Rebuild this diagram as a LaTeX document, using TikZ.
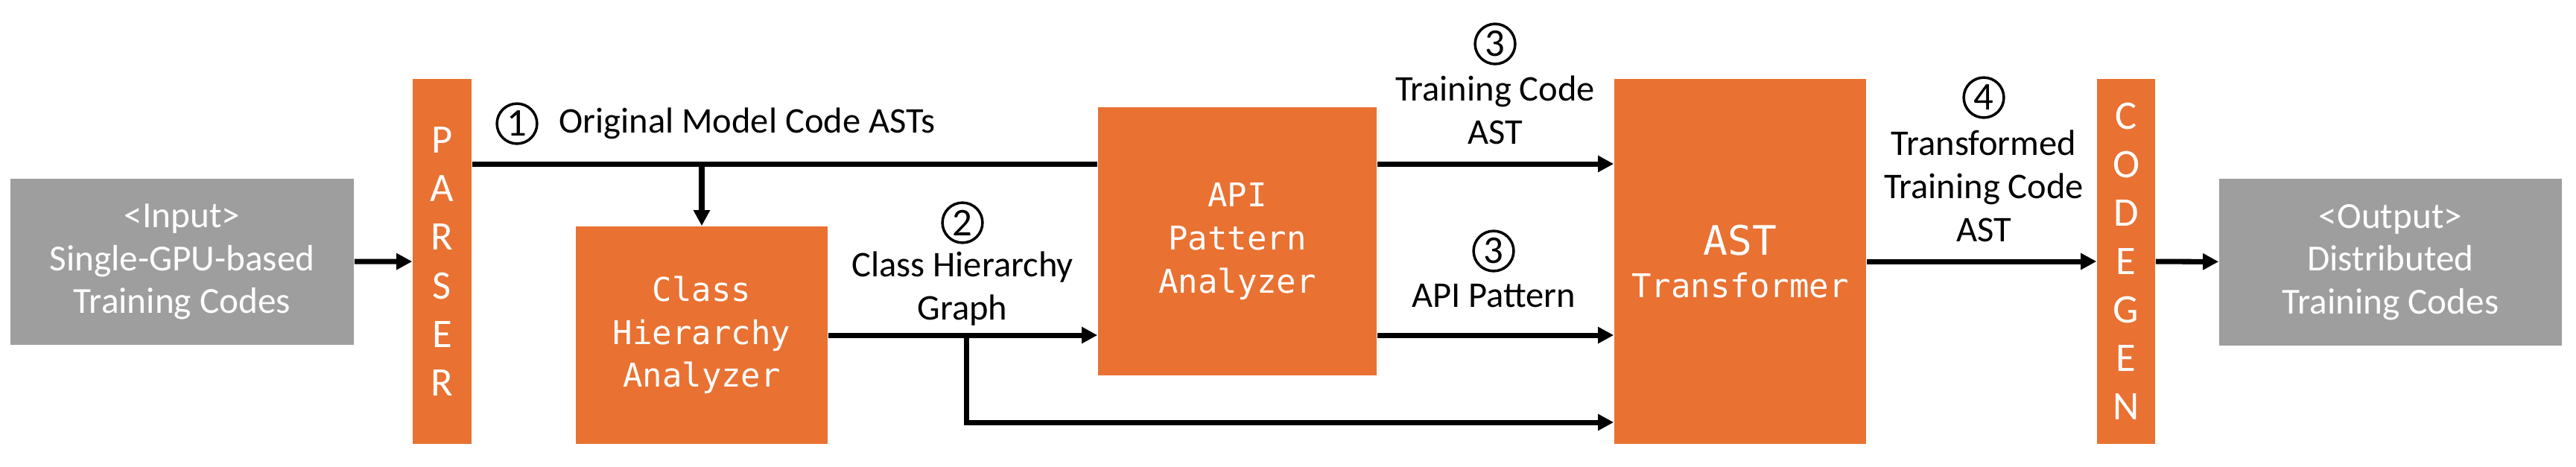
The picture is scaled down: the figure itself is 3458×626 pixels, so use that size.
\documentclass[tikz,border=0pt]{standalone}
\usepackage{fontspec}
\setmainfont{Carlito}
\newfontfamily\monof{DejaVu Sans Mono}
\usetikzlibrary{arrows.meta}
\definecolor{org}{HTML}{E97132}
\definecolor{gry}{HTML}{9E9E9E}
\begin{document}
\begin{tikzpicture}[x=0.01cm,y=-0.01cm,
 conn/.style={line width=2pt, -{Triangle[length=6pt,width=6pt]}},
 plain/.style={line width=2pt},
 obox/.style={fill=org, text=white, inner sep=0pt, align=center},
 gbox/.style={fill=gry, text=white, inner sep=0pt, align=center, font=\fontsize{14}{16.3}\selectfont},
 mono/.style={font=\monof\fontsize{12.5}{16.4}\selectfont},
 vlet/.style={font=\fontsize{15.5}{18.5}\selectfont},
 lbl/.style={align=center, font=\fontsize{13.8}{16.5}\selectfont},
 num/.style={circle, draw, line width=1pt, minimum size=15.3pt, inner sep=0pt, font=\fontsize{15}{16}\selectfont}
]
\useasboundingbox (0,0) rectangle (3458,626);

% boxes
\node[gbox, minimum width=4.61cm, minimum height=2.23cm] (input) at (244.5,351.5) {<Input>\\Single-GPU-based\\Training Codes};
\node[obox, vlet, minimum width=0.79cm, minimum height=4.90cm] (parser) at (593.5,351) {P\\A\\R\\S\\E\\R};
\node[obox, mono, minimum width=3.38cm, minimum height=2.92cm] (cha) at (942,450) {Class\\Hierarchy\\Analyzer};
\node[obox, mono, minimum width=3.74cm, minimum height=3.60cm] (api) at (1661,324) {API\\Pattern\\Analyzer};
\node[obox, mono, minimum width=3.38cm, minimum height=4.90cm] (ast) at (2336,351) {{\fontsize{15.5}{19}\selectfont AST}\\Transformer};
\node[obox, vlet, minimum width=0.78cm, minimum height=4.90cm] (codegen) at (2854,351) {C\\O\\D\\E\\G\\E\\N};
\node[gbox, minimum width=4.60cm, minimum height=2.24cm] (output) at (3209,352) {<Output>\\Distributed\\Training Codes};

% level coordinates
\coordinate (lev1) at (0,220);
\coordinate (br) at (1297,567);

% connectors
\draw[conn] (input) -- (parser);
\draw[plain] (parser.east |- lev1) -- (api.west |- lev1);
\draw[conn] (api.east |- lev1) -- (ast.west |- lev1);
\draw[conn] (cha.north |- lev1) -- (cha.north);
\draw[conn] (cha.east) -- (api.west |- cha.east);
\draw[conn] (api.east |- cha.east) -- (ast.west |- cha.east);
\draw[conn] (cha.east -| br) -- (br) -- (ast.west |- br);
\draw[conn] (ast.east |- codegen.west) -- (codegen.west);
\draw[conn] (codegen) -- (output);

% labels
\node[num] (n1) at (694,166) {1};
\node[lbl, anchor=west] (l1) at (738,166) {Original Model Code ASTs};
\node[num] (n2) at (1292,299) {2};
\node[lbl] (l2) at (1292,388) {Class Hierarchy\\Graph};
\node[num] (n3a) at (2007,59) {3};
\node[lbl] (l3a) at (2007,148) {Training Code\\AST};
\node[num] (n3b) at (2005,337) {3};
\node[lbl] (l3b) at (2005,397) {API Pattern};
\node[num] (n4) at (2663,131) {4};
\node[lbl] (l4) at (2663,250) {Transformed\\Training Code\\AST};
\end{tikzpicture}
\end{document}
